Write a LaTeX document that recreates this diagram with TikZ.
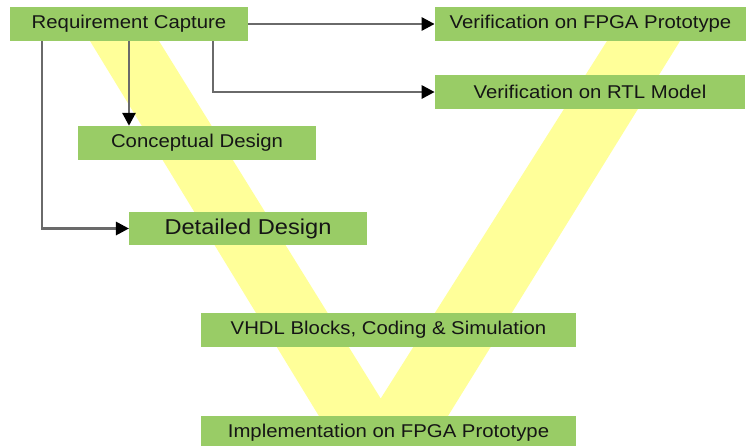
\documentclass[tikz,border=0pt]{standalone}
\usepackage{fontspec}
\setmainfont{Liberation Sans}
\usetikzlibrary{arrows.meta}
\definecolor{boxgreen}{HTML}{99CC66}
\definecolor{vyellow}{HTML}{FFFF99}
\definecolor{linkgray}{HTML}{6A6A6A}
\definecolor{textdark}{HTML}{151515}
\begin{document}
\begin{tikzpicture}[x=1pt,y=-1pt,
  stage/.style={fill=boxgreen, draw=none, inner sep=0pt, anchor=center,
    text=textdark, font=\fontsize{18.5}{20}\selectfont, xscale=1.1, transform shape},
  link/.style={draw=linkgray, line width=2.8pt,
    -{Triangle[length=13pt,width=13pt,fill=black,color=black]}}
]
\useasboundingbox (0,0) rectangle (746,445);
\clip (0,0) rectangle (746,445);
\fill[white] (0,0) rectangle (746,445);

% the V behind the stages
\fill[vyellow] (90,41) -- (159,41) -- (380.7,398.5) -- (607,41) -- (680,41) -- (383,521) -- cycle;
\fill[vyellow] (80,24) rectangle (159,41);
\fill[vyellow] (607,24) rectangle (690,41);

% stages
\node[stage, minimum width=216pt, minimum height=34pt] (rc)  at (129,24)   {Requirement Capture};
\node[stage, minimum width=283pt, minimum height=34pt] (fp)  at (590.5,24) {Verification on FPGA Prototype};
\node[stage, minimum width=282pt, minimum height=34pt] (rtl) at (590,92)   {Verification on RTL Model};
\node[stage, minimum width=216pt, minimum height=34pt] (cd)  at (197,143)  {Conceptual Design};
\node[stage, minimum width=216pt, minimum height=33pt, font=\fontsize{21.5}{23}\selectfont] (dd) at (248,228.5) {Detailed Design};
\node[stage, minimum width=341pt, minimum height=34pt] (vh)  at (388.5,330) {VHDL Blocks, Coding \& Simulation};
\node[stage, minimum width=341pt, minimum height=34pt] (im)  at (388.5,433) {Implementation on FPGA Prototype};

% connectors
\draw[link] (rc.east) -- (fp.west);
\draw[link] ([xshift=84pt]rc.south) |- (rtl.west);
\draw[link] (rc.south) -- (rc.south |- cd.north);
\draw[link] ([xshift=-87pt]rc.south) |- (dd.west);
\end{tikzpicture}
\end{document}
